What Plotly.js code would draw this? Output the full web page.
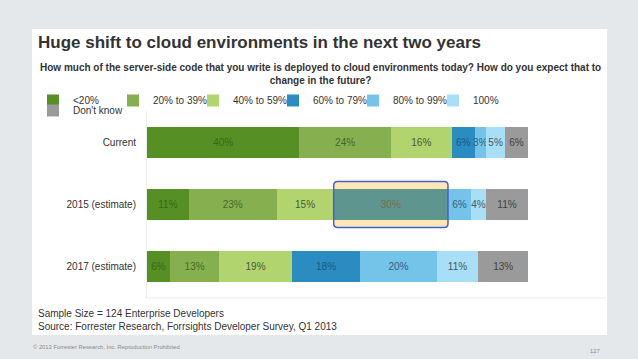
<!DOCTYPE html>
<html>
<head>
<meta charset="utf-8">
<script src="https://cdn.plot.ly/plotly-3.0.1.min.js"></script>
<style>html,body{margin:0;padding:0;background:#e4e8eb;}#chart{width:638px;height:359px;}</style>
</head>
<body>
<div id="chart"></div>
<script>
// ---- data ----
const categories = ['Current', '2015 (estimate)', '2017 (estimate)'];
const seriesNames = ['<20%', '20% to 39%', '40% to 59%', '60% to 79%', '80% to 99%', '100%', "Don't know"];
const lt20 = [40, 11, 6];
const p20to39 = [24, 23, 13];
const p40to59 = [16, 15, 19];
const p60to79 = [6, 30, 18];
const p80to99 = [3, 6, 20];
const p100 = [5, 4, 11];
const dontKnow = [6, 11, 13];
const highlightCategory = '2015 (estimate)';
const highlightSeries = '60% to 79%';

const titleText = 'Huge shift to cloud environments in the next two years';
const subtitleText = 'How much of the server-side code that you write is deployed to cloud environments today? How do you expect that to<br>change in the future?';
const noteLine1 = 'Sample Size = 124 Enterprise Developers';
const noteLine2 = 'Source: Forrester Research, Forrsights Developer Survey, Q1 2013';
const footerText = '\u00a9 2013 Forrester Research, Inc. Reproduction Prohibited';
const pageNumber = '127';

// ---- styling ----
const FONT = 'Liberation Sans, Arial, sans-serif';
const colors = ['#568f24', '#86b04f', '#b2d46f', '#2a8cc1', '#74c3e8', '#a9dff6', '#9a9a9a'];
const textColors = ['#3a6819', '#43692a', '#485a38', '#1a5a82', '#33617d', '#3d5868', '#424242'];
const highlightBarColor = '#5f958f';
const highlightTextColor = '#7a6a48';

const allSeries = [lt20, p20to39, p40to59, p60to79, p80to99, p100, dontKnow];

const L = 147, W = 381, T = 111, H = 187, FW = 638, FH = 359;
const px2x = px => (px - L) / W;
const py2y = py => (T + H - py) / H;

const hiIdx = categories.indexOf(highlightCategory);
const hiSer = seriesNames.indexOf(highlightSeries);

const traces = allSeries.map((vals, i) => {
  const mc = vals.map((v, j) => (i === hiSer && j === hiIdx) ? highlightBarColor : colors[i]);
  const tc = vals.map((v, j) => (i === hiSer && j === hiIdx) ? highlightTextColor : textColors[i]);
  return {
    type: 'bar',
    orientation: 'h',
    name: seriesNames[i],
    y: categories,
    x: vals,
    marker: {color: mc, line: {width: 0}},
    text: vals.map(v => v + '%'),
    textposition: 'inside',
    insidetextanchor: 'middle',
    textangle: 0,
    textfont: {family: FONT, size: 10, color: tc},
    hoverinfo: 'skip',
    legend: i === 6 ? 'legend2' : 'legend'
  };
});

// highlight box around the highlighted segment, computed from data
let start = 0;
for (let k = 0; k < hiSer; k++) start += allSeries[k][hiIdx];
const end = start + allSeries[hiSer][hiIdx];
const rx = 4 / W * 100, ry = 4 / (H / 3), hh = 0.37;
const y0 = hiIdx - hh, y1 = hiIdx + hh;
const boxPath = `M ${start + rx},${y0} L ${end - rx},${y0} Q ${end},${y0} ${end},${y0 + ry} L ${end},${y1 - ry} Q ${end},${y1} ${end - rx},${y1} L ${start + rx},${y1} Q ${start},${y1} ${start},${y1 - ry} L ${start},${y0 + ry} Q ${start},${y0} ${start + rx},${y0} Z`;

const shapes = [
  {type: 'rect', xref: 'paper', yref: 'paper', x0: px2x(32), x1: px2x(607), y0: py2y(29), y1: py2y(335),
   fillcolor: '#ffffff', line: {width: 0}, layer: 'below'},
  {type: 'path', xref: 'x', yref: 'y', path: boxPath, fillcolor: '#ffe6b4', line: {width: 0}, layer: 'below'},
  {type: 'path', xref: 'x', yref: 'y', path: boxPath, fillcolor: 'rgba(0,0,0,0)', line: {color: '#4060d8', width: 1.5}, layer: 'above'},
  {type: 'line', xref: 'paper', yref: 'paper', x0: px2x(145), x1: px2x(606), y0: py2y(298), y1: py2y(298),
   line: {color: '#ececec', width: 1}, layer: 'below'}
];

const annotations = [
  {text: '<b>' + titleText + '</b>', x: px2x(36), y: py2y(42), xanchor: 'left', yanchor: 'middle',
   font: {family: FONT, size: 17, color: '#333333'}},
  {text: '<b>' + subtitleText + '</b>', x: px2x(320), y: py2y(73.5), xanchor: 'center', yanchor: 'middle', align: 'center',
   font: {family: FONT, size: 10, color: '#333333'}},
  {text: noteLine1, x: px2x(36), y: py2y(313), xanchor: 'left', yanchor: 'middle',
   font: {family: FONT, size: 10, color: '#333333'}},
  {text: noteLine2, x: px2x(36), y: py2y(326), xanchor: 'left', yanchor: 'middle',
   font: {family: FONT, size: 10, color: '#333333'}},
  {text: footerText, x: px2x(31), y: py2y(347), xanchor: 'left', yanchor: 'middle',
   font: {family: FONT, size: 5.8, color: '#888888'}},
  {text: pageNumber, x: px2x(602), y: py2y(351), xanchor: 'right', yanchor: 'middle',
   font: {family: FONT, size: 5.8, color: '#888888'}}
].map(a => Object.assign({xref: 'paper', yref: 'paper', showarrow: false}, a));

const layout = {
  width: FW, height: FH,
  margin: {l: L, r: FW - L - W, t: T, b: FH - T - H, pad: 0},
  paper_bgcolor: '#e4e8eb',
  plot_bgcolor: 'rgba(0,0,0,0)',
  barmode: 'stack',
  bargap: 0.5,
  font: {family: FONT, size: 10, color: '#333333'},
  uniformtext: {mode: 'show', minsize: 10},
  xaxis: {range: [0, 100], visible: false, fixedrange: true},
  yaxis: {type: 'category', categoryorder: 'array', categoryarray: categories, autorange: 'reversed',
          showgrid: false, zeroline: false, showline: true, linecolor: '#ececec', linewidth: 1,
          ticks: '', ticklabelstandoff: 8, tickfont: {family: FONT, size: 10, color: '#333333'}, fixedrange: true},
  showlegend: true,
  legend: {orientation: 'h', x: px2x(33), xanchor: 'left', y: py2y(86), yanchor: 'top',
           traceorder: 'normal', entrywidth: 35, entrywidthmode: 'pixels',
           bgcolor: 'rgba(0,0,0,0)', font: {family: FONT, size: 10, color: '#333333'}},
  legend2: {orientation: 'h', x: px2x(33), xanchor: 'left', y: py2y(96), yanchor: 'top',
           traceorder: 'normal', bgcolor: 'rgba(0,0,0,0)', font: {family: FONT, size: 10, color: '#333333'}},
  shapes: shapes,
  annotations: annotations
};

Plotly.newPlot('chart', traces, layout, {displayModeBar: false, staticPlot: true});
</script>
</body>
</html>
